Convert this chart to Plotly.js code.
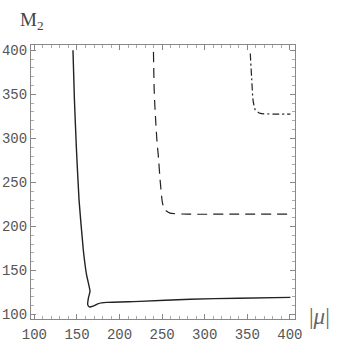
<!DOCTYPE html>
<html>
<head>
<meta charset="utf-8">
<script src="https://cdn.plot.ly/plotly-3.0.1.min.js"></script>
<style>html,body{margin:0;padding:0;background:#fff;}#chart{width:346px;height:357px;}</style>
</head>
<body>
<div id="chart"></div>
<script>
// Solid curve
var solidX = [145.3, 147.0, 149.4, 152.4, 157.4, 161.2, 165.3, 163.5, 162.6, 164.5, 168.8, 175.0, 185.0, 224.0, 283.0, 340.0, 400.6];
var solidY = [400.0, 343.5, 286.9, 230.2, 173.6, 145.3, 126.4, 119.3, 111.3, 108.7, 109.6, 112.5, 113.9, 115.0, 117.5, 118.6, 119.6];
// Dashed curve
var dashX = [239.8, 240.6, 241.4, 242.6, 243.8, 245.6, 247.6, 250.4, 253.5, 259.4, 280.0, 340.0, 400.6];
var dashY = [398.2, 356.7, 337.8, 317.1, 298.2, 279.3, 252.9, 226.5, 218.9, 215.1, 214.0, 214.0, 214.0];
// Dash-dotted curve
var dotX = [353.5, 355.0, 356.7, 359.4, 365.3, 380.0, 400.6];
var dotY = [396.4, 370.0, 343.5, 332.2, 328.4, 327.6, 327.6];

var xTicks = [100, 150, 200, 250, 300, 350, 400];
var yTicks = [100, 150, 200, 250, 300, 350, 400];

var traces = [
  {x: solidX, y: solidY, mode: 'lines', line: {color: '#222', width: 1.4, shape: 'spline', smoothing: 0.4}, hoverinfo: 'none'},
  {x: dashX, y: dashY, mode: 'lines', line: {color: '#222', width: 1.2, dash: '10px,6px', shape: 'spline', smoothing: 0.5}, hoverinfo: 'none'},
  {x: dotX, y: dotY, mode: 'lines', line: {color: '#222', width: 1.2, dash: '7px,3px,2px,3px', shape: 'spline', smoothing: 0.5}, hoverinfo: 'none'}
];

var axisCommon = {
  showgrid: false, zeroline: false,
  showline: true, linecolor: '#888', linewidth: 1,
  mirror: 'ticks', ticks: 'inside', ticklen: 5, tickcolor: '#888', tickwidth: 1,
  tickfont: {family: 'Liberation Mono, monospace', size: 14, color: '#555'},
  minor: {dtick: 10, ticks: 'inside', ticklen: 3, tickcolor: '#aaa', tickwidth: 1}
};

var layout = {
  width: 346, height: 357,
  margin: {l: 31, r: 51, t: 45, b: 37.5},
  paper_bgcolor: '#fff', plot_bgcolor: '#fff',
  showlegend: false,
  xaxis: Object.assign({}, axisCommon, {range: [96, 406], tickvals: xTicks, ticktext: xTicks.map(String), ticklabelstandoff: 2}),
  yaxis: Object.assign({}, axisCommon, {range: [95, 406], tickvals: yTicks, ticktext: yTicks.map(String)}),
  annotations: [
    {xref: 'paper', yref: 'paper', x: -0.05, y: 1.035, xanchor: 'left', yanchor: 'bottom', showarrow: false,
     text: 'M<sub>2</sub>', font: {family: 'Liberation Serif, serif', size: 19, color: '#444'}},
    {xref: 'paper', yref: 'paper', x: 1.045, y: 0.01, xanchor: 'left', yanchor: 'middle', showarrow: false,
     text: '|<i>μ</i>|', font: {family: 'Liberation Serif, serif', size: 23, color: '#666'}}
  ]
};

Plotly.newPlot('chart', traces, layout, {staticPlot: true, displayModeBar: false});
</script>
</body>
</html>
